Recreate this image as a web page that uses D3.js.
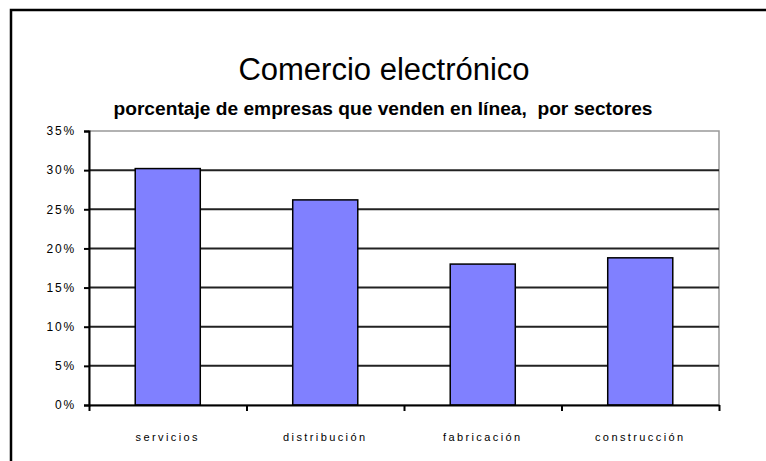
<!DOCTYPE html>
<html>
<head>
<meta charset="utf-8">
<script src="https://cdn.jsdelivr.net/npm/d3@7"></script>
<style>
  html, body { margin: 0; padding: 0; background: #fff; }
  svg { display: block; }
  text { font-family: "Liberation Sans", Arial, sans-serif; fill: #000; }
</style>
</head>
<body>
<svg id="chart" width="766" height="461"></svg>
<script>
// Sectors and share of firms selling online
const categories = ["servicios", "distribución", "fabricación", "construcción"];
const values = [0.302, 0.262, 0.180, 0.188];
const yTicks = [0, 0.05, 0.10, 0.15, 0.20, 0.25, 0.30, 0.35];
const title = "Comercio electrónico";
const subtitle = "porcentaje de empresas que venden en línea,  por sectores";

const svg = d3.select("#chart");
const plot = { left: 89, right: 719, top: 131, bottom: 405 };

// Chart frame (continues past the right and bottom edges)
svg.append("rect")
  .attr("x", 11).attr("y", 10)
  .attr("width", 820).attr("height", 520)
  .attr("fill", "none").attr("stroke", "#000").attr("stroke-width", 2.5);

// Titles
svg.append("text")
  .attr("x", 384).attr("y", 80)
  .attr("text-anchor", "middle")
  .style("font-size", "31px")
  .text(title);

svg.append("text")
  .attr("x", 383).attr("y", 115)
  .attr("text-anchor", "middle")
  .style("font-size", "18px").style("font-weight", "bold")
  .style("white-space", "pre")
  .attr("textLength", 539).attr("lengthAdjust", "spacingAndGlyphs")
  .text(subtitle);

// Scales
const x = d3.scaleBand()
  .domain(categories)
  .range([plot.left, plot.right])
  .paddingInner(0.587)
  .paddingOuter(0.2935);

const xBounds = d3.scaleLinear()
  .domain([0, categories.length])
  .range([plot.left, plot.right]);

const y = d3.scaleLinear()
  .domain([0, 0.35])
  .range([plot.bottom, plot.top]);

// Plot area outline (grey)
svg.append("rect")
  .attr("x", plot.left).attr("y", plot.top)
  .attr("width", plot.right - plot.left).attr("height", plot.bottom - plot.top)
  .attr("fill", "none").attr("stroke", "#999").attr("stroke-width", 1.5);

// Horizontal gridlines
svg.append("g")
  .selectAll("line")
  .data(yTicks.filter(t => t > 0 && t < 0.35))
  .join("line")
  .attr("x1", plot.left).attr("x2", plot.right)
  .attr("y1", d => y(d)).attr("y2", d => y(d))
  .attr("stroke", "#222").attr("stroke-width", 2);

// Bars
svg.append("g")
  .selectAll("rect")
  .data(categories)
  .join("rect")
  .attr("x", d => x(d))
  .attr("y", (d, i) => y(values[i]))
  .attr("width", x.bandwidth())
  .attr("height", (d, i) => y(0) - y(values[i]))
  .attr("fill", "#8080ff")
  .attr("stroke", "#000").attr("stroke-width", 1.5);

// Y axis
const yAxis = svg.append("g")
  .attr("transform", `translate(${plot.left},0)`)
  .call(d3.axisLeft(y).tickValues(yTicks).tickFormat(d3.format(".0%"))
    .tickSize(5).tickPadding(8));
yAxis.select(".domain").attr("stroke", "#000").attr("stroke-width", 2);
yAxis.selectAll(".tick line").attr("stroke", "#000").attr("stroke-width", 2);
yAxis.selectAll(".tick text")
  .style("font-family", "'Liberation Sans', Arial, sans-serif")
  .style("font-size", "12px").style("letter-spacing", "1.8px")
  .attr("fill", "#000");

// X axis: ticks at category boundaries
const xAxis = svg.append("g")
  .attr("transform", `translate(0,${plot.bottom})`)
  .call(d3.axisBottom(xBounds).tickValues(d3.range(categories.length + 1))
    .tickFormat("").tickSize(6).tickSizeOuter(0));
xAxis.select(".domain").attr("stroke", "#000").attr("stroke-width", 2);
xAxis.selectAll(".tick line").attr("stroke", "#000").attr("stroke-width", 2);

// Category labels
svg.append("g")
  .selectAll("text")
  .data(categories)
  .join("text")
  .attr("x", d => x(d) + x.bandwidth() / 2)
  .attr("y", 441)
  .attr("text-anchor", "middle")
  .style("font-size", "11px").style("letter-spacing", "2.4px")
  .text(d => d);
</script>
</body>
</html>
